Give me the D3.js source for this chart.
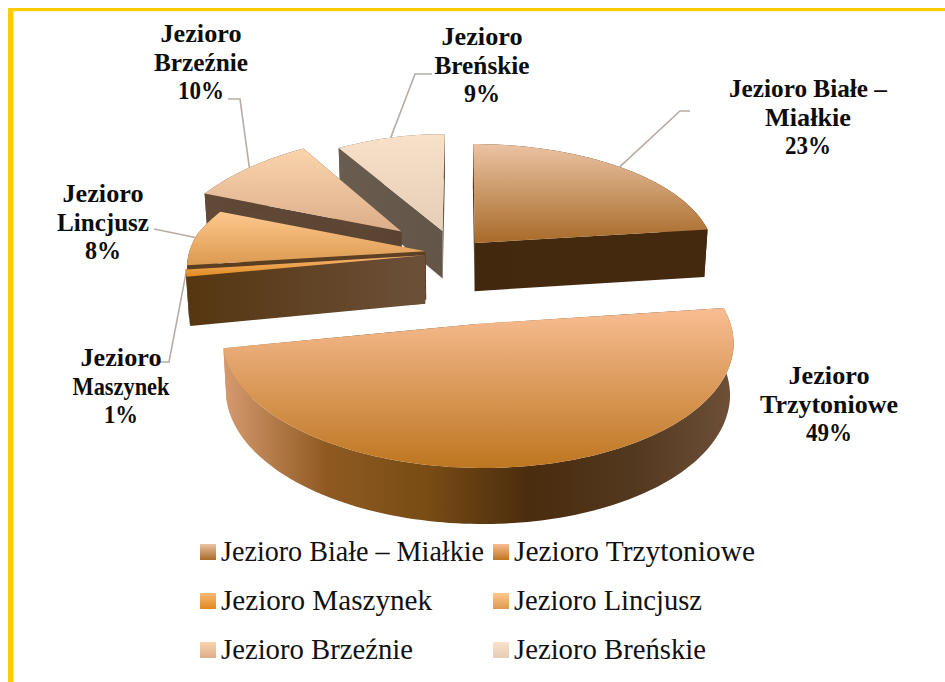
<!DOCTYPE html>
<html><head><meta charset="utf-8">
<script src="https://cdn.jsdelivr.net/npm/d3@7"></script>
<style>html,body{margin:0;padding:0;background:#fff}svg{display:block}</style>
</head><body><svg id="c" width="945" height="682"></svg>
<script>
const categories=["Jezioro Białe – Miałkie","Jezioro Trzytoniowe","Jezioro Maszynek","Jezioro Lincjusz","Jezioro Brzeźnie","Jezioro Breńskie"];
const values=[23,49,1,8,10,9];
const labelLines=[["Jezioro Białe –","Miałkie"],["Jezioro","Trzytoniowe"],["Jezioro","Maszynek"],["Jezioro","Lincjusz"],["Jezioro","Brzeźnie"],["Jezioro","Breńskie"]];
const explode=[0.12,0.6,0.133,0.129,0.307,0.21];
const topStops=[["#ebc3a4","#a86a28"],["#f8bd93","#bd7620"],["#f7b878","#e08a20"],["#fdc88e","#dc9a50"],["#fad4ac","#dcae8a"],["#f9e1c9","#e6cdb6"]];
const wallStops=[["#42290d","#45290f"],["#d69a70","#8f5a22","#784c14","#4a2c0e","#52381f","#6e5038"],["#553610","#6c5039"],["#5a3c1e","#5e4026"],["#614a36","#5a4232"],["#695d50","#635548"]];
const labelPos=[[808,97],[829,384],[121,366],[103,202],[201,42],[482,45]];
const labelWidths=[[158,86,46],[81,138,46],[81,97,34],[81,92,36],[81,94,46],[81,95,36]];
const legendWidths=[263,241,211,188,192,192];
const leaderStart=[[690,111],null,[160,362],[154,229],[228,99],[432,74]];
const leaderElbow=[[680,111],null,[169,362],null,[240,99],[415,74]];

const svg=d3.select("#c"),defs=svg.append("defs");
const cx=456,H=-780,K=9550,D=9.245;
const widthLeft=d3.scaleLinear().domain([147,235,265,310,345,470]).range([197,232,240,247,261,292]);
const widthRight=d3.scaleLinear().domain([144,235,310,345,470]).range([216,236,247,257,290]);
const thickAt=d3.scaleLinear().domain([240,467]).range([48,56]);
function proj(u,v,z){const y0=H+K/(D-v),w=(u>0?widthRight:widthLeft)(y0);const x=cx+u*w;
  return z?[cx+(x-cx)*0.987,y0+thickAt(y0)]:[x,y0];}
const pie=d3.pie().sort(null).startAngle(0).endAngle(2*Math.PI)(values);
const line=d3.line();
function geom(d,i){const m=(d.startAngle+d.endAngle)/2,E=explode[i];
  const au=E*Math.sin(m),av=-E*Math.cos(m);
  const pt=(a,r,z)=>proj(au+r*Math.sin(a),av-r*Math.cos(a),z);
  const n=Math.max(4,Math.ceil((d.endAngle-d.startAngle)*40));
  const angs=d3.range(n+1).map(k=>d.startAngle+(d.endAngle-d.startAngle)*k/n);
  return {m,pt,angs};}
function grad(id,stops,horiz){const g=defs.append("linearGradient").attr("id",id)
   .attr("x1",0).attr("y1",0).attr("x2",horiz?1:0).attr("y2",horiz?0:1);
  stops.forEach((c,k)=>g.append("stop").attr("offset",k/(stops.length-1)).attr("stop-color",c));}
topStops.forEach((s,i)=>grad("top"+i,s,false));
wallStops.forEach((s,i)=>grad("wall"+i,s,true));

pie.forEach((d,i)=>{ if(!leaderStart[i])return; const g=geom(d,i);
  const pts=[leaderStart[i]]; if(leaderElbow[i])pts.push(leaderElbow[i]); pts.push(g.pt(g.m,1,false));
  svg.append("path").attr("d",line(pts)).attr("fill","none").attr("stroke","#b8aca3").attr("stroke-width",1.6);});

[5,4,3,2,0,1].forEach(i=>{const d=pie[i],g=geom(d,i),f=`url(#wall${i})`;
  const wall=(a)=>line([g.pt(a,0,false),g.pt(a,1,false),g.pt(a,1,true),g.pt(a,0,true)]);
  svg.append("path").attr("d",wall(d.startAngle)+"Z").attr("fill",f);
  svg.append("path").attr("d",wall(d.endAngle)+"Z").attr("fill",f);
  const rim=g.angs.map(a=>g.pt(a,1,false)).concat(g.angs.slice().reverse().map(a=>g.pt(a,1,true)));
  svg.append("path").attr("d",line(rim)+"Z").attr("fill",f);
  const top=[g.pt(0,0,false)].concat(g.angs.map(a=>g.pt(a,1,false)));
  svg.append("path").attr("d",line(top)+"Z").attr("fill",`url(#top${i})`);
});

const serif="'Liberation Serif',serif";
categories.forEach((c,i)=>{const [x,y]=labelPos[i];
  labelLines[i].concat([d3.format(".0f")(values[i])+"%"]).forEach((s,k)=>
    svg.append("text").attr("x",x).attr("y",y+k*28.7).attr("text-anchor","middle").attr("font-family",serif)
      .attr("font-weight","bold").attr("font-size",25.5).attr("fill","#0d0d0d")
      .attr("textLength",labelWidths[i][k]).attr("lengthAdjust","spacingAndGlyphs").text(s));
});

const legX=d3.scalePoint().domain([0,1]).range([200,493]);
const legY=d3.scalePoint().domain([0,1,2]).range([544,642]);
categories.forEach((c,i)=>{const x=legX(i%2),y=legY(Math.floor(i/2));
  svg.append("rect").attr("x",x).attr("y",y).attr("width",16).attr("height",16).attr("fill",`url(#top${i})`);
  svg.append("text").attr("x",x+21).attr("y",y+16.5).attr("font-family",serif)
    .attr("font-size",28.5).attr("fill","#111").attr("textLength",legendWidths[i]).attr("lengthAdjust","spacingAndGlyphs").text(c);
});

svg.append("rect").attr("x",8).attr("y",8).attr("width",5.5).attr("height",674).attr("fill","#ffcc00");
svg.append("rect").attr("x",8).attr("y",8).attr("width",937).attr("height",3.2).attr("fill","#ffcc00");
</script></body></html>
